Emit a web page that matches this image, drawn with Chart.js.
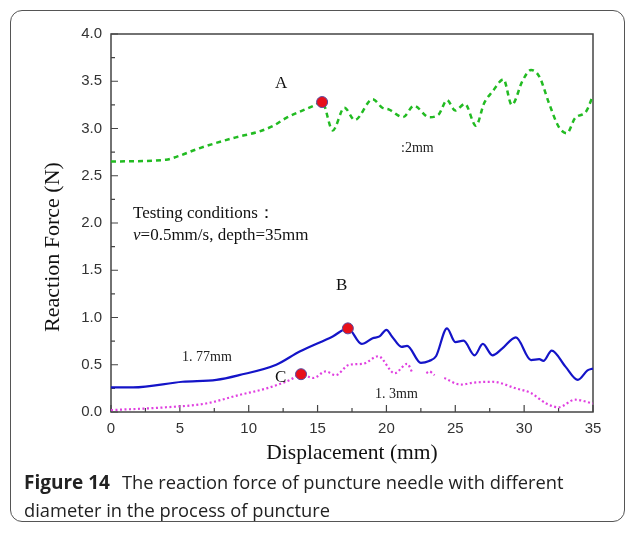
<!DOCTYPE html>
<html>
<head>
<meta charset="utf-8">
<script src="https://cdn.jsdelivr.net/npm/chart.js@4/dist/chart.umd.min.js"></script>
<style>
  html,body{margin:0;padding:0;background:#fff;}
  #wrap{position:relative;width:636px;height:533px;overflow:hidden;}
  #frame{position:absolute;left:10px;top:10px;width:615px;height:512px;border:1px solid #555;border-radius:12px;box-sizing:border-box;}
  #c{position:absolute;left:0;top:0;}
  #cap{position:absolute;left:24px;top:468px;width:600px;font-family:"Open Sans",sans-serif;font-size:18.3px;line-height:27px;color:#222;}
  #cap b{font-weight:700;font-size:19px;margin-right:12px;}
</style>
</head>
<body>
<div id="wrap">
  <div id="frame"></div>
  <canvas id="c" width="636" height="533"></canvas>
  <div id="cap"><b>Figure 14</b>The reaction force of puncture needle with different diameter in the process of puncture</div>
</div>
<script>
// ---- data ----
const dispA  = [0, 4.0, 4.75, 6.4, 8.9, 10.8, 11.8, 12.7, 14.7, 15.33, 16.1, 16.95, 17.7, 19.0, 19.7, 20.2, 21.2, 22.0, 23.1, 23.8, 24.4, 25.0, 25.7, 26.5, 27.1, 27.7, 28.5, 29.1, 29.9, 30.5, 31.1, 31.8, 32.5, 33.1, 33.7, 34.5, 35.0];
const forceA = [2.65, 2.67, 2.70, 2.79, 2.90, 2.97, 3.03, 3.11, 3.24, 3.28, 2.98, 3.22, 3.09, 3.31, 3.22, 3.20, 3.12, 3.24, 3.12, 3.15, 3.30, 3.19, 3.26, 3.03, 3.27, 3.39, 3.52, 3.25, 3.51, 3.62, 3.55, 3.27, 3.02, 2.95, 3.11, 3.18, 3.35];

const dispB  = [0, 1.6, 5.2, 7.65, 9.3, 12.0, 13.7, 16.1, 17.2, 18.2, 19.0, 19.5, 20.0, 20.4, 21.1, 21.5, 22.5, 23.1, 23.6, 24.4, 25.0, 25.6, 26.4, 27.0, 27.7, 28.4, 29.4, 30.5, 31.1, 31.4, 32.0, 33.0, 33.9, 34.6, 35.0];
const forceB = [0.26, 0.26, 0.32, 0.34, 0.39, 0.50, 0.64, 0.80, 0.885, 0.72, 0.78, 0.80, 0.87, 0.80, 0.69, 0.70, 0.52, 0.54, 0.59, 0.885, 0.74, 0.755, 0.60, 0.72, 0.60, 0.67, 0.79, 0.55, 0.56, 0.54, 0.65, 0.48, 0.34, 0.44, 0.46];

const dispC  = [0, 4.0, 6.9, 9.3, 11.3, 13.0, 13.8, 14.7, 15.6, 16.3, 17.3, 18.3, 19.4, 20.6, 21.5, 21.9, 22.4, 22.9, 23.1, 23.5, 23.85, 24.2, 25.4, 26.3, 27.7, 29.4, 30.5, 31.6, 32.5, 33.7, 35.0];
const forceC = [0.02, 0.05, 0.09, 0.18, 0.25, 0.34, 0.40, 0.36, 0.43, 0.39, 0.50, 0.51, 0.59, 0.41, 0.51, 0.41, null, 0.41, 0.43, 0.39, null, 0.36, 0.29, 0.31, 0.32, 0.25, 0.20, 0.09, 0.05, 0.13, 0.09];

const markX = [15.33, 17.2, 13.8];
const markY = [3.28, 0.885, 0.40];

const xTicksMajor = [0, 5, 10, 15, 20, 25, 30, 35];
const yTicksMajor = [0.0, 0.5, 1.0, 1.5, 2.0, 2.5, 3.0, 3.5, 4.0];

const xTitle = "Displacement (mm)";
const yTitle = "Reaction Force (N)";

function pts(xs, ys){ return xs.map((x,i)=>({x:x, y:ys[i]})); }

const frameAndText = {
  id:'frameAndText',
  beforeDatasetsDraw(chart){
    const {ctx, chartArea:a, scales:{x, y}} = chart;
    ctx.save();
    ctx.strokeStyle = '#444';
    ctx.lineWidth = 1.5;
    ctx.strokeRect(a.left, a.top, a.right - a.left, a.bottom - a.top);
    ctx.lineWidth = 1.2;
    ctx.beginPath();
    x.ticks.forEach(t=>{
      const px = x.getPixelForValue(t.value);
      const len = xTicksMajor.includes(t.value) ? 7 : 4;
      ctx.moveTo(px, a.bottom); ctx.lineTo(px, a.bottom - len);
    });
    y.ticks.forEach(t=>{
      const py = y.getPixelForValue(t.value);
      const len = yTicksMajor.some(v=>Math.abs(v - t.value) < 1e-6) ? 7 : 4;
      ctx.moveTo(a.left, py); ctx.lineTo(a.left + len, py);
    });
    ctx.stroke();
    ctx.restore();
  },
  afterDraw(chart){
    const {ctx, chartArea:a} = chart;
    ctx.save();
    ctx.fillStyle = '#111';
    ctx.font = '21.5px "Liberation Serif", "Times New Roman", serif';
    ctx.textAlign = 'center';
    ctx.textBaseline = 'middle';
    ctx.fillText(xTitle, (a.left + a.right)/2, 453);
    ctx.save();
    ctx.translate(53, 247);
    ctx.rotate(-Math.PI/2);
    ctx.font = '22px "Liberation Serif", "Times New Roman", serif';
    ctx.fillText(yTitle, 0, 0);
    ctx.restore();

    ctx.textAlign = 'left';
    ctx.textBaseline = 'alphabetic';
    ctx.font = '17px "Liberation Serif", serif';
    ctx.fillText('A', 275, 88);
    ctx.fillText('B', 336, 290);
    ctx.fillText('C', 275, 382);
    ctx.fillText('Testing conditions\uFF1A', 133, 218);
    ctx.font = 'italic 17px "Liberation Serif", serif';
    ctx.fillText('v', 133, 240);
    const vw = ctx.measureText('v').width;
    ctx.font = '17px "Liberation Serif", serif';
    ctx.fillText('=0.5mm/s, depth=35mm', 133 + vw, 240);
    ctx.font = '14px "Liberation Serif", serif';
    ctx.fillStyle = '#222';
    ctx.fillText(':2mm', 401, 152);
    ctx.fillText('1. 77mm', 182, 361);
    ctx.fillText('1. 3mm', 375, 398);
    ctx.restore();
  }
};

new Chart(document.getElementById('c'), {
  type: 'line',
  data: {
    datasets: [
      { label:'2mm', data: pts(dispA, forceA), borderColor:'#22bb22', borderWidth:2.5, borderDash:[5,4],
        pointRadius:0, fill:false, cubicInterpolationMode:'monotone', order:2 },
      { label:'1.77mm', data: pts(dispB, forceB), borderColor:'#1414c8', borderWidth:2.2,
        pointRadius:0, fill:false, cubicInterpolationMode:'monotone', order:3 },
      { label:'1.3mm', data: pts(dispC, forceC), borderColor:'#e040e0', borderWidth:2.2, borderDash:[2,2.5],
        pointRadius:0, fill:false, spanGaps:false, cubicInterpolationMode:'monotone', order:4 },
      { label:'peaks', data: pts(markX, markY), showLine:false, pointRadius:5.5,
        pointBackgroundColor:'#e8101a', pointBorderColor:'#5a4aa0', pointBorderWidth:1, order:0 }
    ]
  },
  options: {
    responsive:false, devicePixelRatio:1, animation:false,
    layout:{ padding:{ left:0, top:34, right:43, bottom:0 } },
    plugins:{ legend:{display:false}, tooltip:{enabled:false} },
    scales:{
      x:{ type:'linear', min:0, max:35,
        grid:{display:false, drawTicks:false}, border:{display:false},
        afterFit(s){ s.height = 121; },
        afterBuildTicks(s){ const t=[]; for(let v=0; v<=35; v+=2.5) t.push({value:v}); s.ticks=t; },
        ticks:{ padding:8, color:'#333', font:{family:'"Liberation Sans", Arial, sans-serif', size:15},
          callback:(v)=> xTicksMajor.includes(v) ? String(v) : '' , autoSkip:false, maxRotation:0 } },
      y:{ type:'linear', min:0, max:4,
        grid:{display:false, drawTicks:false}, border:{display:false},
        afterFit(s){ s.width = 111; },
        afterBuildTicks(s){ const t=[]; for(let i=0;i<=16;i++) t.push({value:i*0.25}); s.ticks=t; },
        ticks:{ padding:9, color:'#333', font:{family:'"Liberation Sans", Arial, sans-serif', size:15},
          callback:(v)=> yTicksMajor.some(m=>Math.abs(m-v)<1e-6) ? v.toFixed(1) : '', autoSkip:false } }
    }
  },
  plugins:[frameAndText]
});
</script>
</body>
</html>
